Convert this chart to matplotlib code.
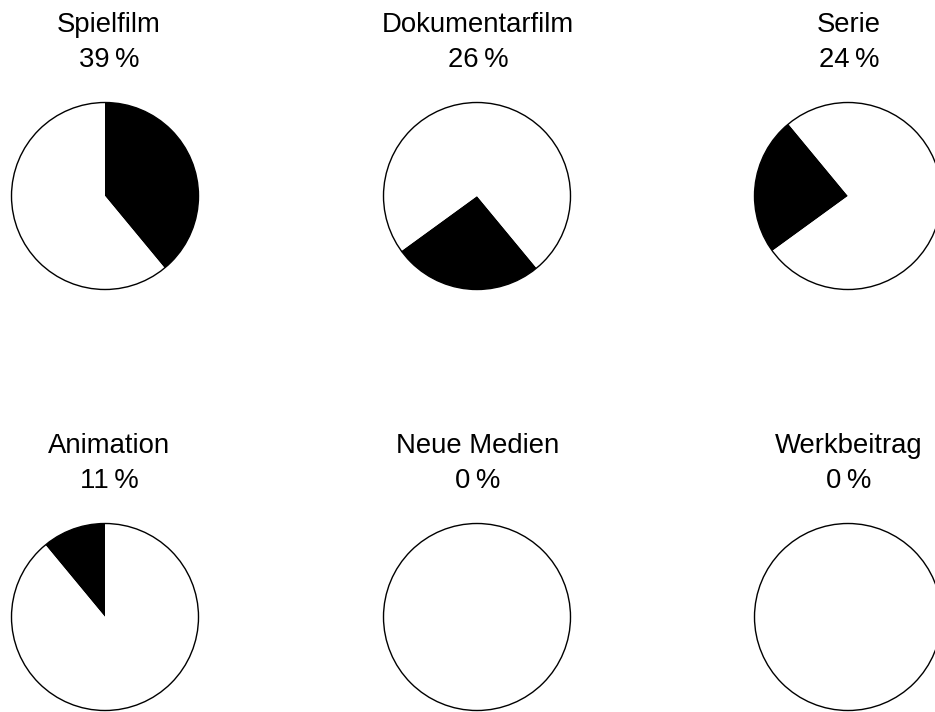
import numpy as np
import matplotlib
matplotlib.use("Agg")
import matplotlib.pyplot as plt
from matplotlib.patches import Circle

plt.rcParams["font.family"] = ["Liberation Sans", "DejaVu Sans"]

# data
labels = ["Spielfilm", "Dokumentarfilm", "Serie", "Animation", "Neue Medien", "Werkbeitrag"]
shares = [39, 26, 24, 11, 0, 0]

# layout (pixels)
W, H = 935, 712
pie_x = [105, 477, 848]
title_x = [109, 478, 849]
pie_y = [196, 617]
title_base = [32, 453]
R = 93.5
pad = 1.03

starts = np.concatenate([[0], np.cumsum(shares)[:-1]])

fig = plt.figure(figsize=(W / 100, H / 100), dpi=100)

for i, (lab, v, s) in enumerate(zip(labels, shares, starts)):
    row, col = divmod(i, 3)
    cx, cy = pie_x[col], pie_y[row]
    half = R * pad
    ax = fig.add_axes([(cx - half) / W, 1 - (cy + half) / H, 2 * half / W, 2 * half / H])
    ax.pie([v, 100 - v], colors=["black", "white"], startangle=90 - s * 3.6,
           counterclock=False, radius=1, wedgeprops=dict(linewidth=0))
    ax.add_patch(Circle((0, 0), 1, fill=False, ec="black", lw=1.0))
    ax.set_xlim(-pad, pad)
    ax.set_ylim(-pad, pad)
    ax.set_aspect("equal")
    ax.axis("off")

    tb = title_base[row]
    fig.text(title_x[col] / W, 1 - tb / H, lab, ha="center", va="baseline",
             fontsize=19.8, color="black")
    fig.text(title_x[col] / W, 1 - (tb + 35) / H, f"{v}\u2009%", ha="center",
             va="baseline", fontsize=19.8, color="black")

fig.savefig("out.png", dpi=100)
